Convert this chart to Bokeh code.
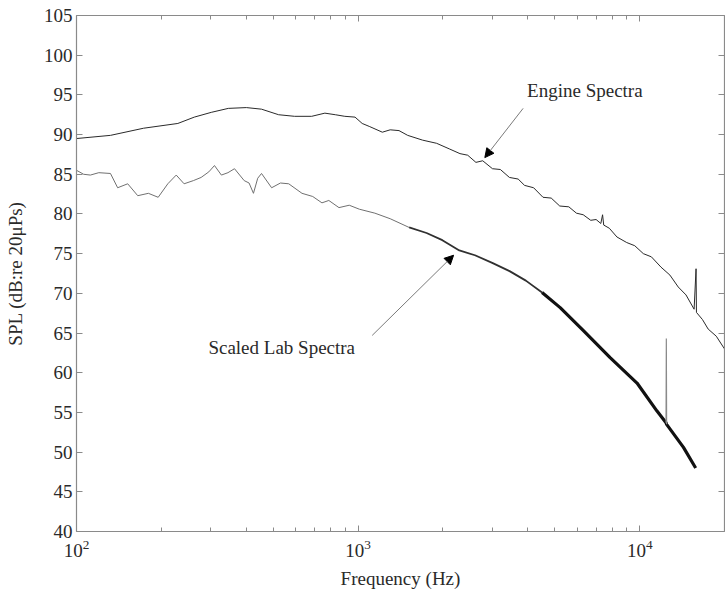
from bokeh.plotting import figure
from bokeh.models import LogAxis, LinearAxis, FixedTicker, Arrow, NormalHead, Label
from bokeh.embed import file_html
from bokeh.resources import INLINE

# ---- data ----
engine_f = [100, 132, 173, 229, 262, 301, 346, 401, 454, 522, 595, 684, 762, 830, 897, 975,
            1034, 1100, 1219, 1300, 1397, 1500, 1694, 1900, 2107, 2300, 2450, 2620, 2770, 3000,
            3200, 3446, 3700, 3900, 4200, 4534, 4850, 5200, 5600, 5960, 6300, 6700, 7000, 7275,
            7380, 7450, 7800, 8300, 8990, 9600, 10300, 11000, 11900, 12800, 13700, 14600, 15600,
            15850, 15900, 16700, 17500, 18700, 20000]
engine_db = [89.5, 89.9, 90.8, 91.4, 92.2, 92.8, 93.3, 93.4, 93.2, 92.5, 92.3, 92.3, 92.7, 92.5,
             92.3, 92.2, 91.4, 91.0, 90.3, 90.6, 90.5, 89.9, 89.3, 88.9, 88.2, 87.6, 87.4, 86.5,
             86.7, 85.7, 85.6, 84.6, 84.4, 83.6, 83.3, 82.1, 82.0, 81.0, 80.9, 80.1, 79.9, 79.2,
             79.3, 78.8, 79.9, 78.6, 78.2, 77.1, 76.4, 76.0, 75.0, 74.6, 73.3, 72.3, 70.8, 69.8,
             68.0, 73.1, 67.6, 66.7, 65.5, 64.6, 63.0]

lab_f = [100, 106, 112, 120, 132, 140, 152, 165, 180, 195, 211, 226, 241, 260, 277, 295, 309,
         327, 345, 364, 394, 410, 425, 440, 454, 493, 530, 567, 632, 690, 744, 787, 855, 930,
         1010, 1147, 1300, 1518, 1750, 1991, 2288, 2600, 3007, 3450, 3941, 4500, 5218, 6310,
         7850, 9780, 11500, 12400, 12460, 14300, 15800]
lab_db = [85.5, 85.0, 84.9, 85.2, 85.1, 83.3, 83.8, 82.3, 82.6, 82.1, 83.8, 84.9, 83.8, 84.2,
          84.6, 85.3, 86.1, 84.9, 85.2, 85.7, 84.2, 83.9, 82.6, 84.5, 85.1, 83.3, 83.9, 83.8,
          82.6, 82.2, 81.4, 81.7, 80.8, 81.1, 80.6, 80.1, 79.4, 78.3, 77.6, 76.7, 75.4, 74.8,
          73.8, 72.8, 71.6, 70.1, 68.2, 65.3, 61.9, 58.7, 55.2, 53.7, 53.5, 50.6, 48.0]

lab_spike_f = [12400, 12430, 12460]
lab_spike_db = [53.7, 64.3, 53.5]

x_major = [100, 1000, 10000]
x_minor = [200, 300, 400, 500, 600, 700, 800, 900, 2000, 3000, 4000, 5000, 6000, 7000,
           8000, 9000, 20000]
y_ticks = [40, 45, 50, 55, 60, 65, 70, 75, 80, 85, 90, 95, 100, 105]

FONT = "Liberation Serif"
FS = "19px"
AX = "#8a8a8a"
TX = "#2a2a2a"

p = figure(width=725, height=597, x_axis_type="log", x_range=(100, 20000), y_range=(40, 105),
           output_backend="svg", toolbar_location=None,
           min_border_left=76, min_border_right=1, min_border_top=15, min_border_bottom=66)
p.outline_line_color = None
p.xgrid.visible = False
p.ygrid.visible = False
p.background_fill_color = "white"


def style(ax, labels=True):
    ax.axis_line_color = AX
    ax.axis_line_width = 1.2
    ax.major_tick_line_color = AX
    ax.minor_tick_line_color = AX
    ax.major_tick_in = 6
    ax.major_tick_out = 0
    ax.minor_tick_in = 4
    ax.minor_tick_out = 0
    ax.major_label_text_font = FONT
    ax.major_label_text_font_size = FS if labels else "1px"
    ax.major_label_text_color = TX if labels else None
    ax.axis_label_text_font = FONT
    ax.axis_label_text_font_size = FS
    ax.axis_label_text_font_style = "normal"
    ax.axis_label_text_color = TX
    if not labels:
        ax.major_label_standoff = 0


xt = FixedTicker(ticks=x_major, minor_ticks=x_minor)
yt = FixedTicker(ticks=y_ticks, minor_ticks=[])

p.xaxis.ticker = xt
p.yaxis.ticker = yt
style(p.xaxis[0])
style(p.yaxis[0])
p.xaxis.axis_label = "Frequency (Hz)"
p.yaxis.axis_label = "SPL (dB:re 20μPs)"
p.xaxis.major_label_standoff = 8
p.xaxis.axis_label_standoff = 8
p.yaxis.major_label_standoff = 4
p.yaxis.axis_label_standoff = 15

top = LogAxis(ticker=FixedTicker(ticks=x_major, minor_ticks=x_minor))
style(top, labels=False)
p.add_layout(top, "above")
right = LinearAxis(ticker=FixedTicker(ticks=y_ticks, minor_ticks=[]))
style(right, labels=False)
p.add_layout(right, "right")

# engine spectra
p.line(engine_f, engine_db, line_color="#2a2a2a", line_width=1.0)

# scaled lab spectra: light/noisy at low frequency, gradually denser and darker above
lo = [i for i, f in enumerate(lab_f) if f <= 1518]
mid = [i for i, f in enumerate(lab_f) if 1518 <= f <= 4500]
hi = [i for i, f in enumerate(lab_f) if f >= 4500]
p.line([lab_f[i] for i in lo], [lab_db[i] for i in lo], line_color="#707070", line_width=1.0)
p.line([lab_f[i] for i in mid], [lab_db[i] for i in mid], line_color="#303030", line_width=1.8)
p.line([lab_f[i] for i in hi], [lab_db[i] for i in hi], line_color="#111111", line_width=3.2)
p.line(lab_spike_f, lab_spike_db, line_color="#8a8a8a", line_width=1.2)

# annotations
p.add_layout(Arrow(end=NormalHead(size=9, fill_color="black", line_color="black"),
                   x_start=3854, y_start=93.3, x_end=2818, y_end=87.1,
                   line_color="#7a7a7a", line_width=1))
p.add_layout(Arrow(end=NormalHead(size=9, fill_color="black", line_color="black"),
                   x_start=1122, y_start=64.7, x_end=2183, y_end=74.8,
                   line_color="#7a7a7a", line_width=1))
p.add_layout(Label(x=3981, y=95.55, text="Engine Spectra", text_baseline="middle",
                   text_font=FONT, text_font_size=FS, text_color=TX))
p.add_layout(Label(x=294, y=63.2, text="Scaled Lab Spectra", text_baseline="middle",
                   text_font=FONT, text_font_size=FS, text_color=TX))

open("out.html", "w").write(file_html(p, INLINE))
